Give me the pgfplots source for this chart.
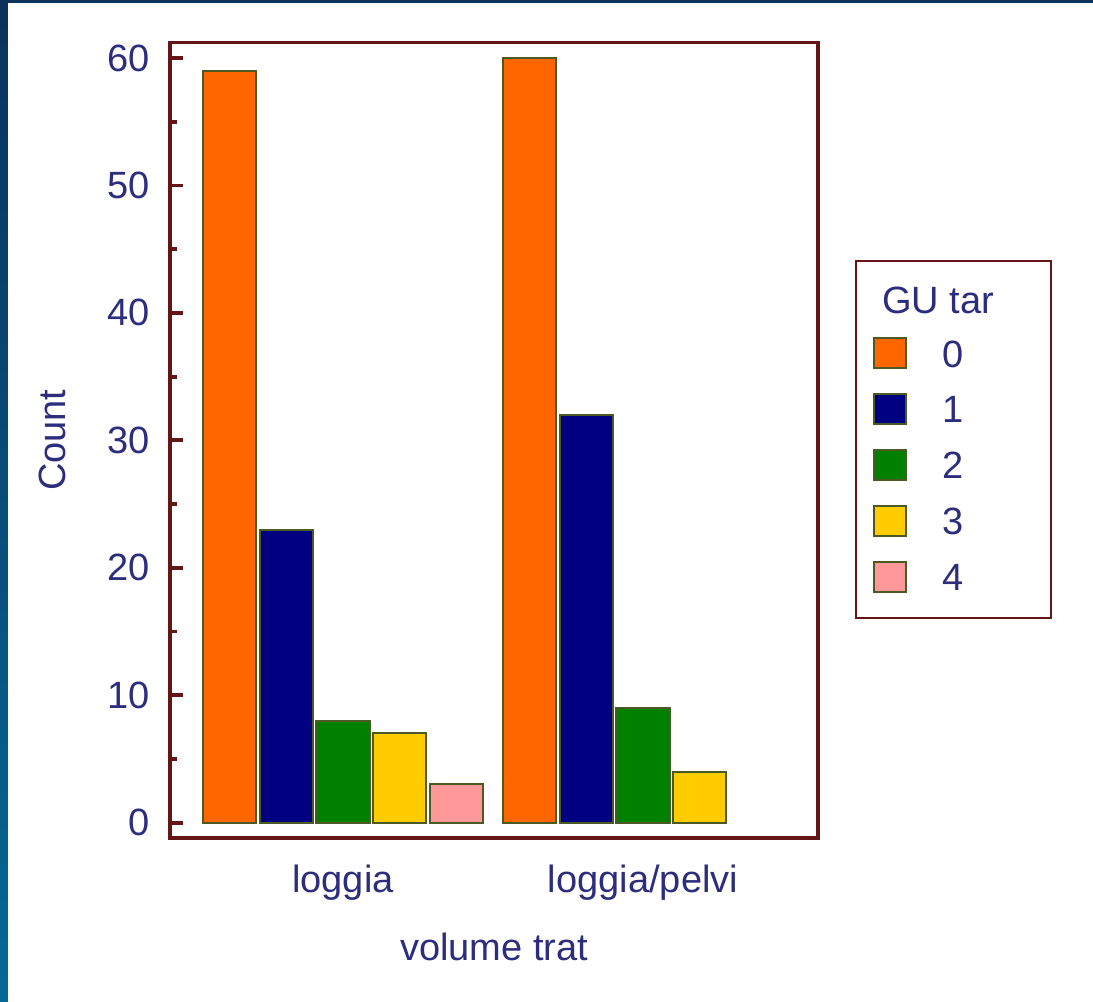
\documentclass[border=0pt]{standalone}
\usepackage{pgfplots}
\pgfplotsset{compat=1.18}
\usepackage{fontspec}
\setmainfont{Liberation Sans}
\definecolor{txt}{RGB}{45,45,125}
\definecolor{frame}{RGB}{100,22,22}
\definecolor{edge}{RGB}{75,90,35}
\definecolor{c0}{RGB}{255,102,0}
\definecolor{c1}{RGB}{0,0,128}
\definecolor{c2}{RGB}{0,128,0}
\definecolor{c3}{RGB}{255,204,0}
\definecolor{c4}{RGB}{255,153,153}
\definecolor{slideA}{RGB}{10,50,90}
\definecolor{slideB}{RGB}{5,105,150}
\newcommand{\bigf}{\fontsize{19}{22}\selectfont}
\pgfplotsset{
  sq/.style={legend image code/.code={\draw[##1] (0pt,-7.5pt) rectangle (16pt,7.5pt);}, draw=edge, line width=1pt},
  barst/.style={ybar, forget plot, bar width=0.177, draw=edge, line width=1pt},
}
\begin{document}
\begin{tikzpicture}
\fill[white] (-85pt,-82pt) rectangle (461.5pt,418.85pt);
\shade[top color=slideA, bottom color=slideB] (-85pt,-82pt) rectangle (-81pt,418.85pt);
\fill[slideA] (-85pt,417.35pt) rectangle (461.5pt,418.85pt);
\begin{axis}[
  at={(0,0)}, anchor=south west,
  width=324pt, height=397.5pt, scale only axis,
  xmin=-0.5767, xmax=1.5833, ymin=-1.18, ymax=61.2,
  axis line style={frame, line width=1.8pt},
  xtick={0,1}, xticklabels={loggia, loggia/pelvi},
  ytick={0,10,...,60}, minor y tick num=1,
  tick align=inside, ytick pos=left,
  major tick length=6.5pt, minor tick length=3.5pt,
  every tick/.style={frame, line width=1.9pt},
  x tick style={draw=none},
  /pgf/number format/assume math mode=true,
  tick label style={font=\bigf, text=txt},
  yticklabel style={anchor=east, inner sep=0pt, xshift=-10pt},
  xticklabel style={anchor=north, inner sep=0pt, yshift=-13.5pt},
  xlabel={volume trat}, ylabel={Count},
  every axis x label/.style={at={(axis description cs:0.5,0)}, anchor=north, inner sep=0pt, yshift=-47.5pt, font=\bigf, text=txt},
  every axis y label/.style={at={(axis description cs:-0.1605,0.5)}, rotate=90, anchor=base, inner sep=0pt, font=\bigf, text=txt},
  legend cell align=left,
  legend style={at={(axis description cs:1.057,0.7268)}, anchor=north west,
    draw=frame, line width=1.2pt, fill=white,
    inner xsep=8.5pt, inner ysep=12.7pt, row sep=11.9pt,
    font=\bigf, text=txt,
    nodes={inner sep=0pt, text height=13.6pt, text depth=0pt},
    /tikz/every odd column/.append style={column sep=17.5pt}},
]
\addplot[barst, bar shift=-0.378, fill=c0] coordinates {(0,59) (1,60)};
\addplot[barst, bar shift=-0.189, fill=c1] coordinates {(0,23) (1,32)};
\addplot[barst, bar shift=0, fill=c2] coordinates {(0,8) (1,9)};
\addplot[barst, bar shift=0.189, fill=c3] coordinates {(0,7) (1,4)};
\addplot[barst, bar shift=0.378, fill=c4] coordinates {(0,3)};
\addlegendimage{empty legend}
\addlegendentry{\hspace*{-30pt}GU tar\hspace*{20pt}}
\addlegendimage{sq, fill=c0}\addlegendentry{0}
\addlegendimage{sq, fill=c1}\addlegendentry{1}
\addlegendimage{sq, fill=c2}\addlegendentry{2}
\addlegendimage{sq, fill=c3}\addlegendentry{3}
\addlegendimage{sq, fill=c4}\addlegendentry{4}
\end{axis}
\end{tikzpicture}
\end{document}
